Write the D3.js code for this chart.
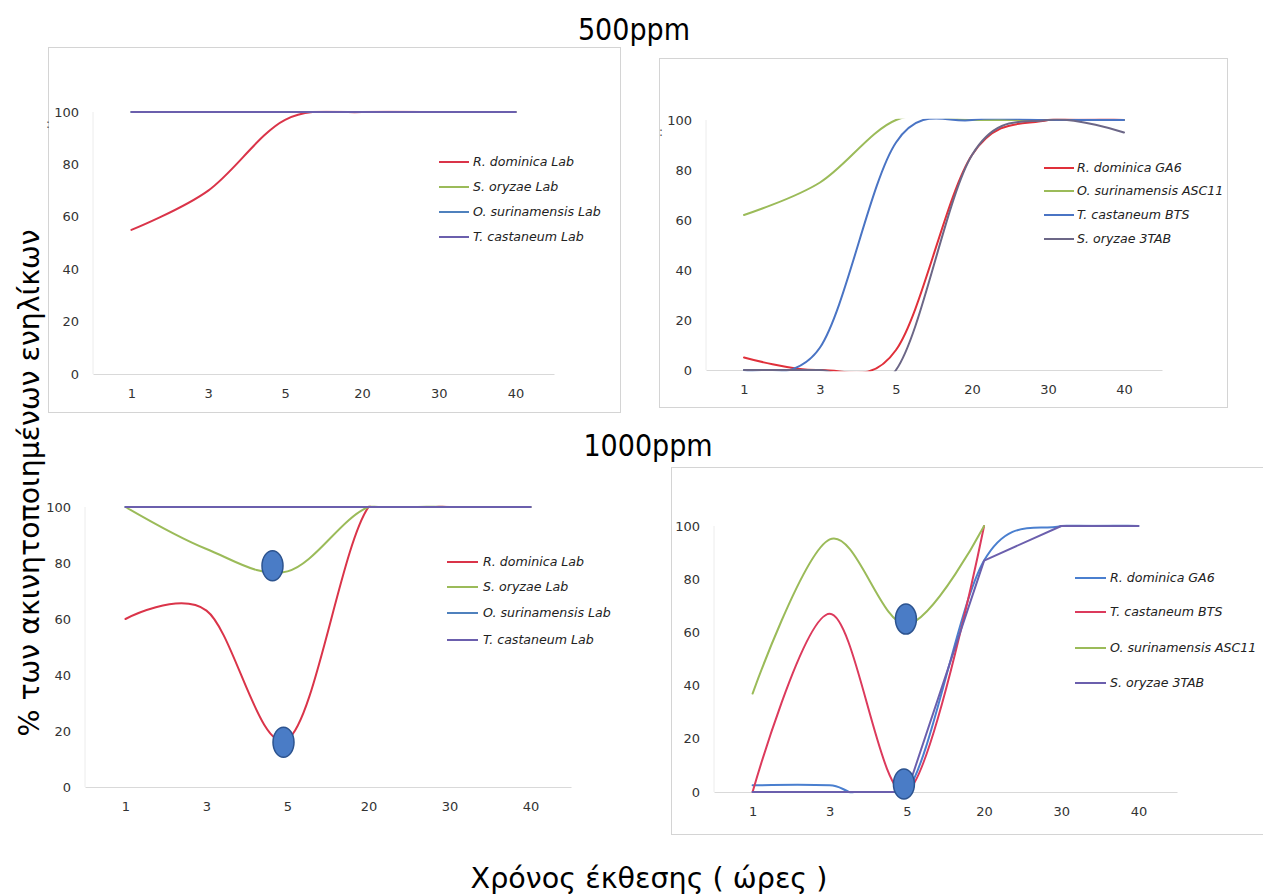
<!DOCTYPE html>
<html>
<head>
<meta charset="utf-8">
<script src="https://cdn.jsdelivr.net/npm/d3@7"></script>
<style>
  html, body { margin: 0; padding: 0; background: #ffffff; }
  svg { display: block; }
  .tick text { font-family: "DejaVu Sans", sans-serif; font-size: 13px; fill: #333; }
  .leg { font-family: "DejaVu Sans", sans-serif; font-size: 12.6px; font-style: italic; fill: #222; }
</style>
</head>
<body>
<script>
// ---------------- DATA ----------------
const categories = ["1", "3", "5", "20", "30", "40"];
const yTicks = [0, 20, 40, 60, 80, 100];

const titleTop = "500ppm";
const titleBottom = "1000ppm";
const xAxisTitle = "Χρόνος έκθεσης ( ώρες )";
const yAxisTitle = "% των ακινητοποιημένων ενηλίκων";

// Panel A: 500ppm, laboratory strains
const aNames = ["R. dominica Lab", "S. oryzae Lab", "O. surinamensis  Lab", "T. castaneum Lab"];
const aRdominica = [55, 70, 97, 100, 100, 100];
const aSoryzae = [100, 100, 100, 100, 100, 100];
const aOsurinamensis = [100, 100, 100, 100, 100, 100];
const aTcastaneum = [100, 100, 100, 100, 100, 100];

// Panel B: 500ppm, field strains
const bNames = ["R. dominica GA6", "O. surinamensis ASC11", "T. castaneum BTS", "S. oryzae 3TAB"];
const bRdominica = [5, 0, 8, 86, 100, 100];
const bOsurinamensis = [62, 75, 100, 100, 100, 100];
const bTcastaneum = [0, 9, 91, 100, 100, 100];
const bSoryzae = [0, 0, 0, 86, 100, 95];

// Panel C: 1000ppm, laboratory strains
const cNames = ["R. dominica Lab", "S. oryzae Lab", "O. surinamensis  Lab", "T. castaneum Lab"];
const cRdominica = [60, 63, 17, 100, 100, 100];
const cSoryzae = [100, 85, 77, 100, 100, 100];
const cOsurinamensis = [100, 100, 100, 100, 100, 100];
const cTcastaneum = [100, 100, 100, 100, 100, 100];
const cMarkers = [79, 16];   // highlighted values at 5 h

// Panel D: 1000ppm, field strains
const dNames = ["R. dominica GA6", "T. castaneum BTS", "O. surinamensis ASC11", "S. oryzae 3TAB"];
const dRdominica = [2.5, 2.5, 0, 87, 100, 100];
const dTcastaneum = [0, 67, 0, 100, null, null];
const dOsurinamensis = [37, 95, 63, 100, null, null];
const dSoryzae = [0, 0, 0, 87, 100, 100];
const dMarkers = [65, 3];    // highlighted values at 5 h

// ---------------- DRAWING ----------------
const W = 1263, H = 896;
const svg = d3.select("body").append("svg").attr("width", W).attr("height", H);

const RED = "#da3449", GREEN = "#9bbb59", BLUE = "#4f81bd", PURPLE = "#6b5fad", GRAY = "#6c6787";

const panels = [
  { frame: [48, 47, 620, 412], xr: [93, 554], yr: [374, 112],
    leg: { x0: 439, x1: 469, tx: 473, rows: [162, 187, 212, 237] },
    names: aNames, series: [aRdominica, aSoryzae, aOsurinamensis, aTcastaneum],
    colors: [RED, GREEN, BLUE, PURPLE], curves: ["s", "s", "s", "s"], colon: true },
  { frame: [659, 58, 1227, 407], xr: [706, 1162], yr: [370, 120],
    leg: { x0: 1044, x1: 1074, tx: 1077, rows: [168, 191, 215, 239] },
    names: bNames, series: [bRdominica, bOsurinamensis, bTcastaneum, bSoryzae],
    colors: ["#e0303a", GREEN, "#4a74c4", GRAY], curves: ["s", "s", "s", "s"], colon: true },
  { frame: null, xr: [85, 571], yr: [787, 507],
    leg: { x0: 447, x1: 478, tx: 483, rows: [562, 587, 613, 640] },
    names: cNames, series: [cRdominica, cSoryzae, cOsurinamensis, cTcastaneum],
    colors: [RED, GREEN, BLUE, PURPLE], curves: ["s", "s", "s", "s"],
    markers: cMarkers, markerDx: [-15, -4] },
  { frame: [671, 467, 1275, 834], xr: [714, 1177], yr: [792, 526],
    leg: { x0: 1075, x1: 1106, tx: 1110, rows: [578, 612, 648, 683] },
    names: dNames, series: [dRdominica, dTcastaneum, dOsurinamensis, dSoryzae],
    colors: ["#4a7fcf", "#dc3a5c", GREEN, PURPLE], curves: ["s", "s", "s", "l"],
    markers: dMarkers, markerDx: [-1, -3] }
];

panels.forEach((p, pi) => {
  const g = svg.append("g");
  if (p.frame) {
    g.append("rect")
      .attr("x", p.frame[0] + 0.5).attr("y", p.frame[1] + 0.5)
      .attr("width", p.frame[2] - p.frame[0]).attr("height", p.frame[3] - p.frame[1])
      .attr("fill", "#fff").attr("stroke", "#d4d4d4").attr("stroke-width", 1);
  }
  const x = d3.scalePoint().domain(categories).range(p.xr).padding(0.5);
  const y = d3.scaleLinear().domain([0, 100]).range(p.yr);

  // axes
  const xa = g.append("g").attr("transform", `translate(0,${p.yr[0]})`)
    .call(d3.axisBottom(x).tickSize(0).tickPadding(15));
  xa.select(".domain").attr("stroke", "#d9d9d9").attr("stroke-width", 1);
  const ya = g.append("g").attr("transform", `translate(${p.xr[0]},0)`)
    .call(d3.axisLeft(y).tickValues(yTicks).tickSize(0).tickPadding(14));
  ya.select(".domain").attr("stroke", "#ececec").attr("stroke-width", 1)
    .attr("d", `M0,${p.yr[0]}V${p.yr[1]}`);

  if (p.colon) {
    g.append("text").attr("x", p.xr[0] - 47).attr("y", y(100) + 16)
      .attr("font-family", "DejaVu Sans").attr("font-size", 12).attr("fill", "#555").text(":");
  }

  // clip to plot area (values 0..100)
  const clipId = "clip" + pi;
  g.append("clipPath").attr("id", clipId).append("rect")
    .attr("x", p.xr[0]).attr("y", p.yr[1] - 1.2)
    .attr("width", p.xr[1] - p.xr[0]).attr("height", p.yr[0] - p.yr[1] + 2.4);

  const lines = g.append("g").attr("clip-path", `url(#${clipId})`);
  p.series.forEach((vals, si) => {
    const pts = categories.map((c, i) => ({ c, v: vals[i] })).filter(d => d.v !== null);
    const line = d3.line()
      .x(d => x(d.c)).y(d => y(d.v))
      .curve(p.curves[si] === "l" ? d3.curveLinear : d3.curveCardinal.tension(0));
    lines.append("path").datum(pts)
      .attr("d", line).attr("fill", "none")
      .attr("stroke", p.colors[si]).attr("stroke-width", 2)
      .attr("stroke-linejoin", "round").attr("stroke-linecap", "round");
  });

  // legend
  p.names.forEach((n, i) => {
    const yy = p.leg.rows[i];
    g.append("line").attr("x1", p.leg.x0).attr("x2", p.leg.x1)
      .attr("y1", yy).attr("y2", yy)
      .attr("stroke", p.colors[i]).attr("stroke-width", 2);
    g.append("text").attr("class", "leg").attr("x", p.leg.tx).attr("y", yy)
      .attr("dy", "0.35em").text(n);
  });

  // highlight markers
  if (p.markers) {
    p.markers.forEach((v, i) => {
      g.append("ellipse")
        .attr("cx", x("5") + p.markerDx[i]).attr("cy", y(v))
        .attr("rx", 10.5).attr("ry", 15)
        .attr("fill", "#4a7cc6").attr("stroke", "#2c538f").attr("stroke-width", 1.5);
    });
  }
});

// titles
svg.append("text").attr("x", 634).attr("y", 40).attr("text-anchor", "middle")
  .attr("font-family", "DejaVu Sans Condensed, DejaVu Sans").attr("font-size", 30)
  .attr("fill", "#000").text(titleTop);
svg.append("text").attr("x", 648).attr("y", 456).attr("text-anchor", "middle")
  .attr("font-family", "DejaVu Sans Condensed, DejaVu Sans").attr("font-size", 30)
  .attr("fill", "#000").text(titleBottom);
svg.append("text").attr("x", 649).attr("y", 888).attr("text-anchor", "middle")
  .attr("font-family", "DejaVu Sans").attr("font-size", 28.6)
  .attr("fill", "#000").text(xAxisTitle);
svg.append("text")
  .attr("transform", "translate(39,483) rotate(-90)")
  .attr("text-anchor", "middle")
  .attr("font-family", "DejaVu Sans").attr("font-size", 28.4)
  .attr("fill", "#000").text(yAxisTitle);
</script>
</body>
</html>
